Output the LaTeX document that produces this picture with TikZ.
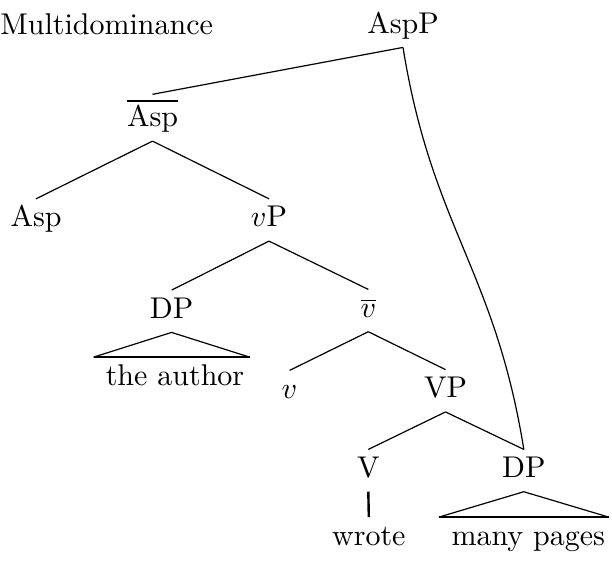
\documentclass[tikz,border=0pt]{standalone}
\usetikzlibrary{calc}
\begin{document}
\begin{tikzpicture}[x=0.33333pt,y=-0.33333pt,
  lab/.style={inner sep=2pt, text height=7.1pt, text depth=2.6pt, anchor=base},
  edgeline/.style={line width=0.4pt},
  roofbase/.style={line width=0.8pt},
  stem/.style={line width=0.8pt}]
\useasboundingbox (0,0) rectangle (612,560);
% title
\node[inner sep=0pt, anchor=base east] (title) at (213.5,34) {Multidominance};
% tree nodes
\node[lab] (aspp) at (403,33) {AspP};
\node[lab, text height=8.6pt] (abar) at (152.5,126.7) {$\overline{\mbox{Asp}}$};
\node[lab] (asp) at (36,226.7) {Asp};
\node[lab] (vp) at (269,226.7) {$v$P};
\node[lab] (dpa) at (171.6,318) {DP};
\node[lab] (vbar) at (368.3,317.3) {$\overline{v}$};
\node[lab] (v) at (289.5,398.3) {$v$};
\node[lab] (vphr) at (445.5,397.5) {VP};
\node[lab] (V) at (368.3,477.3) {V};
\node[lab] (dpb) at (523.8,477.3) {DP};
\node[lab] (wrote) at (368.8,545) {wrote};
\node[lab] (author) at (175,385) {the author};
\node[lab] (pages) at (528.3,545) {many pages};
% edges
\draw[edgeline] (aspp.south) -- (abar.north);
\draw[edgeline] (aspp.south) .. controls +(29,180) and +(-29,-180) .. (dpb.north);
\draw[edgeline] (abar.south) -- (asp.north);
\draw[edgeline] (abar.south) -- (vp.north);
\draw[edgeline] (vp.south) -- (dpa.north);
\draw[edgeline] (vp.south) -- (vbar.north);
\draw[edgeline] (vbar.south) -- (v.north);
\draw[edgeline] (vbar.south) -- (vphr.north);
\draw[edgeline] (vphr.south) -- (V.north);
\draw[edgeline] (vphr.south) -- (dpb.north);
\draw[stem] (V.south) -- (wrote.north);
% roofs
\coordinate (ra) at ($(dpa.south |- author.north)+(-78,0)$);
\coordinate (rb) at ($(dpa.south |- author.north)+(78,0)$);
\draw[edgeline] (ra) -- (dpa.south) -- (rb);
\draw[roofbase] (ra) -- (rb);
\coordinate (rc) at ($(dpb.south |- pages.north)+(-85,0)$);
\coordinate (rd) at ($(dpb.south |- pages.north)+(85,0)$);
\draw[edgeline] (rc) -- (dpb.south) -- (rd);
\draw[roofbase] (rc) -- (rd);
\end{tikzpicture}
\end{document}
